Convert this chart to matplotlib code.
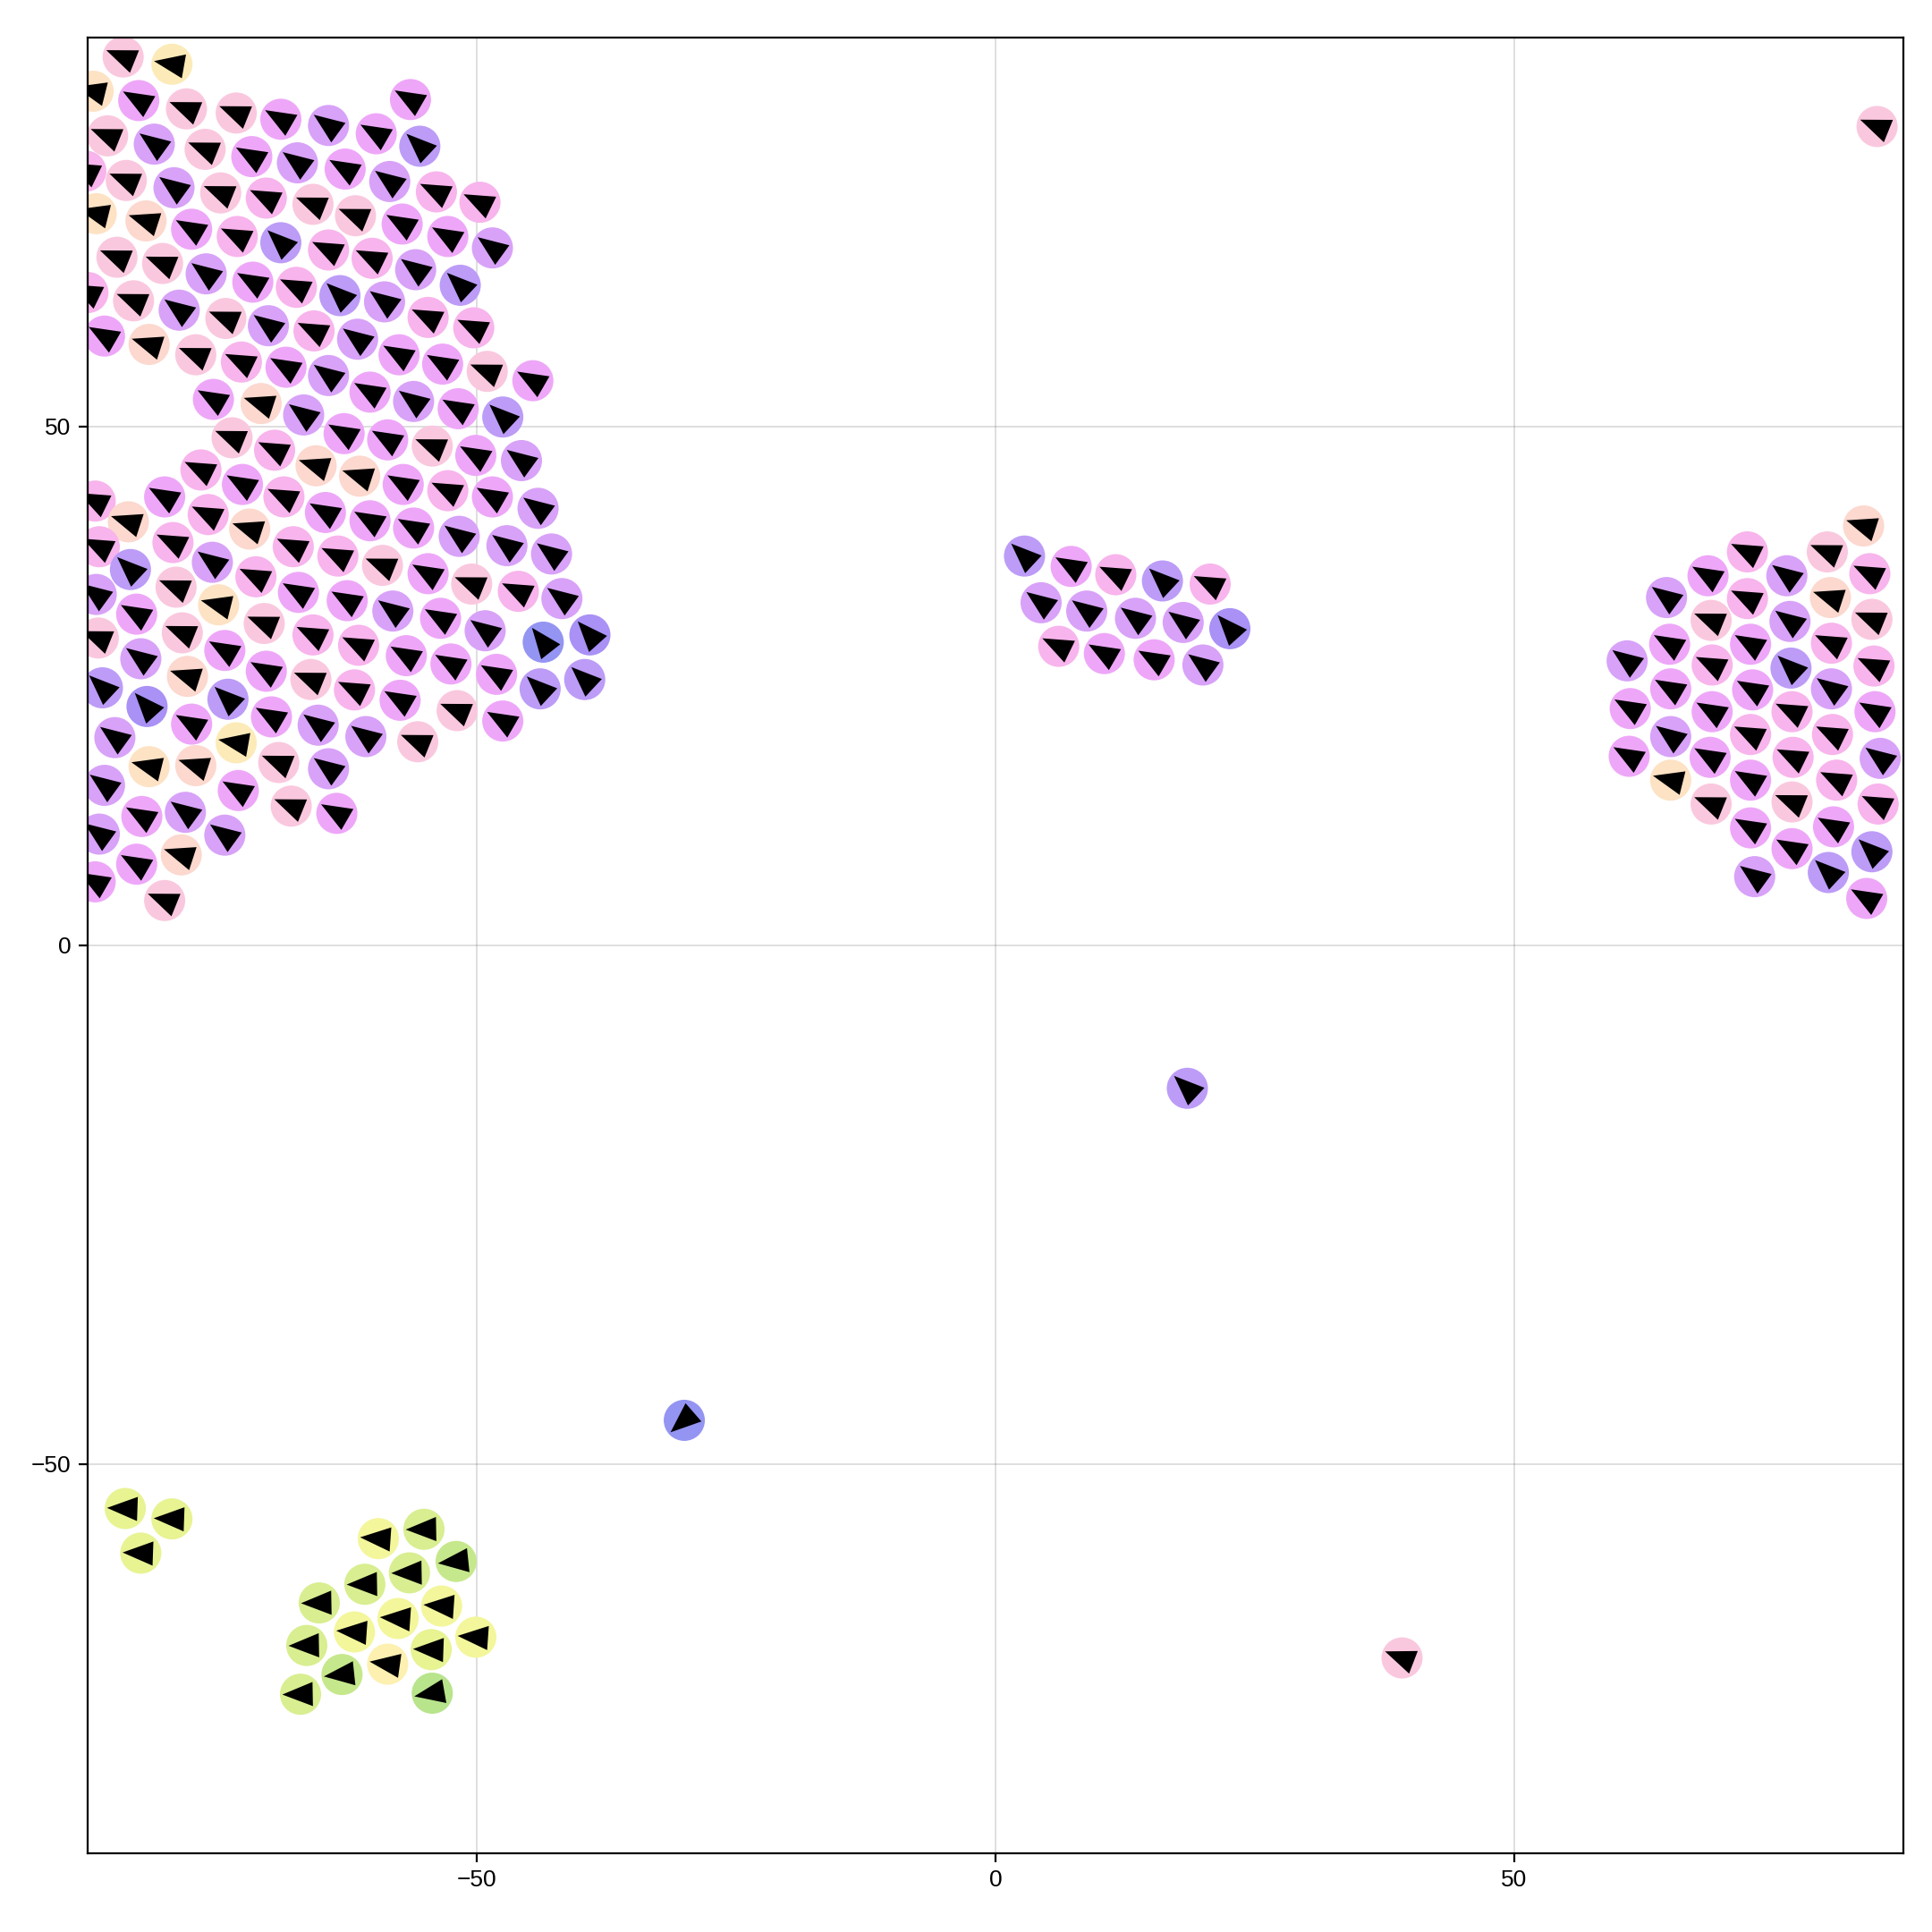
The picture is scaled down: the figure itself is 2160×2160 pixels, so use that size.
import numpy as np
import matplotlib
matplotlib.use('Agg')
import matplotlib.pyplot as plt
from matplotlib.markers import MarkerStyle
from matplotlib.path import Path
from matplotlib.transforms import Affine2D

plt.rcParams['font.family'] = ['Liberation Sans', 'DejaVu Sans']

# big flock, top left
upper_x = [
    -84.1, -79.4, -87.0, -82.6, -78.0, -73.2, -68.9, -64.3, -59.7, -56.4, -55.5,
    -85.6, -81.1, -76.2, -71.7, -67.3, -62.7, -58.4, -53.9, -49.7,
    -87.7, -83.8, -79.2, -74.7, -70.3, -65.8, -61.7, -57.2, -52.8, -48.5,
    -86.7, -81.9, -77.5, -73.1, -68.9, -64.3, -60.1, -55.9, -51.6,
    -84.7, -80.3, -76.1, -71.6, -67.4, -63.2, -58.9, -54.7, -50.3,
    -87.5, -83.1, -78.7, -74.2, -70.1, -65.7, -61.5, -57.5, -53.3, -49.0, -44.6,
    -85.9, -81.6, -77.1, -72.7, -68.4, -64.3,
    -75.4, -70.8, -66.7, -60.3, -56.1, -51.8, -47.5,
    -73.6, -69.5, -65.5, -62.8, -58.6, -54.3, -50.1, -45.7,
    -61.3, -76.6, -57.1, -52.8, -48.5, -72.6, -80.1, -68.6, -86.8,
    -83.6, -75.9, -64.6, -60.3, -56.1, -51.7, -47.1, -44.1,
    -86.4, -79.3, -71.9, -67.7, -63.4, -59.1, -54.7, -50.5, -46.0,
    -83.4, -75.5, -79.0, -71.3, -67.2, -62.5, -58.1, -53.5, -49.2,
    -86.7, -82.8, -74.9, -78.4, -70.5, -65.8, -61.4, -56.8, -52.5, -48.1,
    -86.5, -82.4, -74.3, -77.9, -70.3, -66.0, -61.8, -57.4, -51.9, -47.5,
    -86.1, -81.8, -74.0, -77.5, -69.8, -65.3, -60.7, -55.7,
    -84.9, -73.2, -81.6, -77.1, -69.1, -64.3,
    -85.9, -73.0, -67.9, -63.5, -82.3, -78.1,
    -86.4, -74.3, -82.8, -78.5, -86.8, -80.1,
    -42.8, -41.8, -39.1, -43.6, -43.9, -39.6,
]
upper_y = [
    85.6, 84.9, 82.3, 81.4, 80.6, 80.2, 79.6, 79.0, 78.2, 81.5, 77.0,
    78.0, 77.2, 76.7, 76.0, 75.4, 74.8, 73.6, 72.6, 71.6,
    74.6, 73.7, 73.0, 72.5, 72.0, 71.4, 70.3, 69.5, 68.3, 67.2,
    70.5, 69.8, 69.0, 68.3, 67.7, 67.0, 66.2, 65.1, 63.6,
    66.3, 65.7, 64.7, 63.9, 63.4, 62.6, 62.0, 60.5, 59.5,
    62.9, 62.1, 61.2, 60.4, 59.7, 59.2, 58.4, 56.9, 56.0, 55.3, 54.4,
    58.7, 57.9, 56.9, 56.2, 55.7, 54.9,
    52.6, 52.2, 51.1, 53.3, 52.4, 51.7, 50.9,
    48.9, 47.7, 46.2, 49.3, 48.7, 48.1, 47.2, 46.7,
    45.2, 45.8, 44.4, 43.8, 43.2, 44.4, 43.2, 43.2, 42.8,
    40.8, 41.5, 41.7, 40.9, 40.2, 39.4, 38.5, 42.1,
    38.4, 38.8, 40.1, 38.4, 37.5, 36.6, 35.8, 34.8, 34.1,
    36.2, 36.9, 34.5, 35.5, 34.0, 33.2, 32.2, 31.5, 30.3,
    33.8, 31.9, 32.8, 30.1, 31.0, 29.9, 28.9, 27.9, 27.1, 26.1,
    29.6, 27.6, 28.4, 25.9, 26.4, 25.6, 24.6, 23.6, 22.6, 21.6,
    24.8, 23.0, 23.7, 21.3, 22.0, 21.2, 20.1, 19.6,
    20.0, 19.5, 17.2, 17.3, 17.6, 17.0,
    15.4, 14.9, 13.4, 12.7, 12.4, 12.8,
    10.7, 10.6, 7.8, 8.7, 6.1, 4.3,
    37.7, 33.4, 29.9, 29.2, 24.7, 25.6,
]
upper_heading = [
    158, 170, 166, 150, 158, 158, 150, 144, 150, 150, 137,
    158, 144, 158, 150, 144, 150, 144, 154, 154,
    154, 158, 144, 158, 154, 158, 158, 150, 150, 144,
    166, 162, 150, 154, 137, 154, 154, 144, 137,
    158, 158, 144, 150, 154, 137, 144, 154, 154,
    154, 158, 144, 158, 144, 154, 144, 150, 150, 158, 150,
    150, 162, 158, 154, 150, 144,
    150, 162, 144, 150, 144, 150, 137,
    158, 154, 162, 150, 150, 158, 150, 144,
    162, 154, 150, 154, 150, 150, 150, 154, 154,
    162, 154, 150, 150, 150, 144, 144, 144,
    154, 154, 162, 154, 154, 158, 150, 158, 154,
    137, 144, 158, 154, 150, 150, 144, 150, 144,
    144, 150, 166, 158, 158, 154, 154, 150, 150, 150,
    158, 144, 150, 162, 150, 158, 154, 150, 158, 150,
    137, 132, 137, 150, 150, 144, 144, 158,
    144, 170, 166, 162, 158, 144,
    144, 150, 158, 150, 150, 144,
    144, 144, 150, 162, 150, 158,
    144, 144, 132, 128, 137, 137,
]
upper_tone = ("rya" "mrrmpmmv" "rprmpmpkk" "krprkrrmmp" "aomkvkkpv" "rrpmkvpkk"
              "krprpkpmmrm" "mork" "mp" "mopmpmv" "rkommrmp" "okmkmmmkk"
              "okmmmppp" "kkokkrmrk" "vprkmmpmp" "pmarrkkmmm" "rpmomrkmrm"
              "vcvmmppr" "pyaorp" "pmrmmp" "ppmomr" "ppcbvv")

# flock on the right
right_x = [83.7, 72.5, 80.2, 68.7, 76.3, 84.3, 72.5, 80.5, 64.7, 69.0, 76.6, 84.5,
           65.0, 72.8, 80.6, 60.9, 69.1, 76.7, 84.7, 65.1, 73.0, 80.6, 61.2, 69.1,
           76.8, 84.8, 65.1, 72.8, 80.7, 61.1, 68.9, 76.9, 85.3, 65.1, 72.8, 81.1,
           69.0, 76.8, 85.1, 72.8, 80.8, 76.8, 84.5, 73.2, 80.3, 84.0]
right_y = [40.4, 37.9, 37.9, 35.6, 35.6, 35.8, 33.4, 33.5, 33.5, 31.3, 31.2, 31.4,
           29.0, 29.0, 29.1, 27.4, 27.0, 26.7, 26.9, 24.7, 24.6, 24.7, 22.8, 22.5,
           22.5, 22.5, 20.1, 20.3, 20.3, 18.2, 18.1, 18.1, 18.0, 15.9, 15.9, 15.9,
           13.6, 13.8, 13.6, 11.3, 11.4, 9.3, 9.0, 6.6, 7.0, 4.5]
right_heading = [162, 154, 158, 150, 144, 154, 154, 162, 144, 158, 144, 158,
                 150, 150, 154, 144, 154, 137, 154, 150, 150, 144, 150, 150,
                 154, 150, 144, 154, 154, 150, 150, 154, 144, 166, 150, 154,
                 158, 158, 154, 150, 150, 150, 137, 144, 137, 150]
right_tone = "okrmpkkoprprmmkpkvkmmpmmkmpkkmmkpamkrrkmmmvpvm"

# small flock in the middle
middle_x = [2.8, 7.3, 11.6, 16.1, 20.7, 4.4, 8.8, 13.5, 18.1, 22.6, 6.1, 10.5, 15.3, 20.0]
middle_y = [37.5, 36.5, 35.7, 35.1, 34.8, 33.0, 32.2, 31.5, 31.1, 30.5, 28.8, 28.1, 27.5, 27.0]
middle_heading = [137, 150, 154, 137, 154, 144, 144, 144, 144, 132, 154, 150, 150, 144]
middle_tone = "vmkvkppppckmmp"

# flock at the bottom left, heading west
lower_x = [-83.9, -79.4, -82.4, -59.5, -55.1, -52.0, -56.5, -60.8, -65.2, -53.4,
           -57.6, -61.8, -66.4, -50.1, -54.4, -58.6, -63.0, -67.0, -54.3]
lower_y = [-54.3, -55.3, -58.6, -57.2, -56.3, -59.4, -60.5, -61.6, -63.4, -63.7,
           -64.9, -66.2, -67.5, -66.7, -67.9, -69.3, -70.3, -72.2, -72.1]
lower_heading = [178, 178, 178, 176, 181, 186, 181, 181, 181, 176,
                 176, 176, 181, 176, 178, 172, 186, 181, 190]
lower_tone = "nnnlghggglllglnwhgj"

# lone boids
lone_x = [-30.0, 18.5, 39.2, 85.0]
lone_y = [-45.8, -13.8, -68.7, 78.9]
lone_heading = [221, 137, 159, 158]
lone_tone = "bvrr"

tone_colors = {
    'b': '#9494f2', 'c': '#a991f5', 'v': '#bc9cf7', 'p': '#d8a2f8',
    'm': '#eea7f8', 'k': '#f8b4ec', 'r': '#fac8de', 'o': '#fcd8ce',
    'a': '#fde2c4', 'y': '#fcebb8', 'w': '#fdf0b0', 'l': '#f3f69a',
    'n': '#e8f392', 'g': '#d8ee90', 'h': '#c6e88c', 'j': '#b8e48c',
}

xs = np.concatenate([upper_x, right_x, middle_x, lower_x, lone_x])
ys = np.concatenate([upper_y, right_y, middle_y, lower_y, lone_y])
headings = np.concatenate([upper_heading, right_heading, middle_heading,
                           lower_heading, lone_heading])
tones = upper_tone + right_tone + middle_tone + lower_tone + lone_tone
print(len(xs), len(ys), len(headings), len(tones))

fig = plt.figure(figsize=(21.6, 21.6), dpi=100)
ax = fig.add_axes([0.0455, 0.0409, 0.9395, 0.9398])
ax.set_xlim(-87.5, 87.5)
ax.set_ylim(-87.5, 87.5)
ax.set_xticks([-50, 0, 50])
ax.set_yticks([-50, 0, 50])
ax.grid(True, color='black', alpha=0.13, linewidth=1.4)
ax.set_axisbelow(True)
ax.tick_params(direction='out', length=7.5, width=1.6, labelsize=19, pad=6)
for spine in ax.spines.values():
    spine.set_linewidth(1.6)

# body of each boid
ax.scatter(xs, ys, s=1097, c=[tone_colors[t] for t in tones], linewidths=0, zorder=2)

# arrowhead pointing along the heading
arrow = Path([(1.0, 0.0), (-0.667, 0.662), (-0.667, -0.662), (1.0, 0.0)], closed=True)
tri = ax.scatter(xs, ys, s=864, c='black', linewidths=0, zorder=3)
paths = []
for h in headings:
    m = MarkerStyle(arrow, transform=Affine2D().rotate_deg(h))
    paths.append(m.get_path().transformed(m.get_transform()))
tri.set_paths(paths)

fig.savefig('out.png', dpi=100)
